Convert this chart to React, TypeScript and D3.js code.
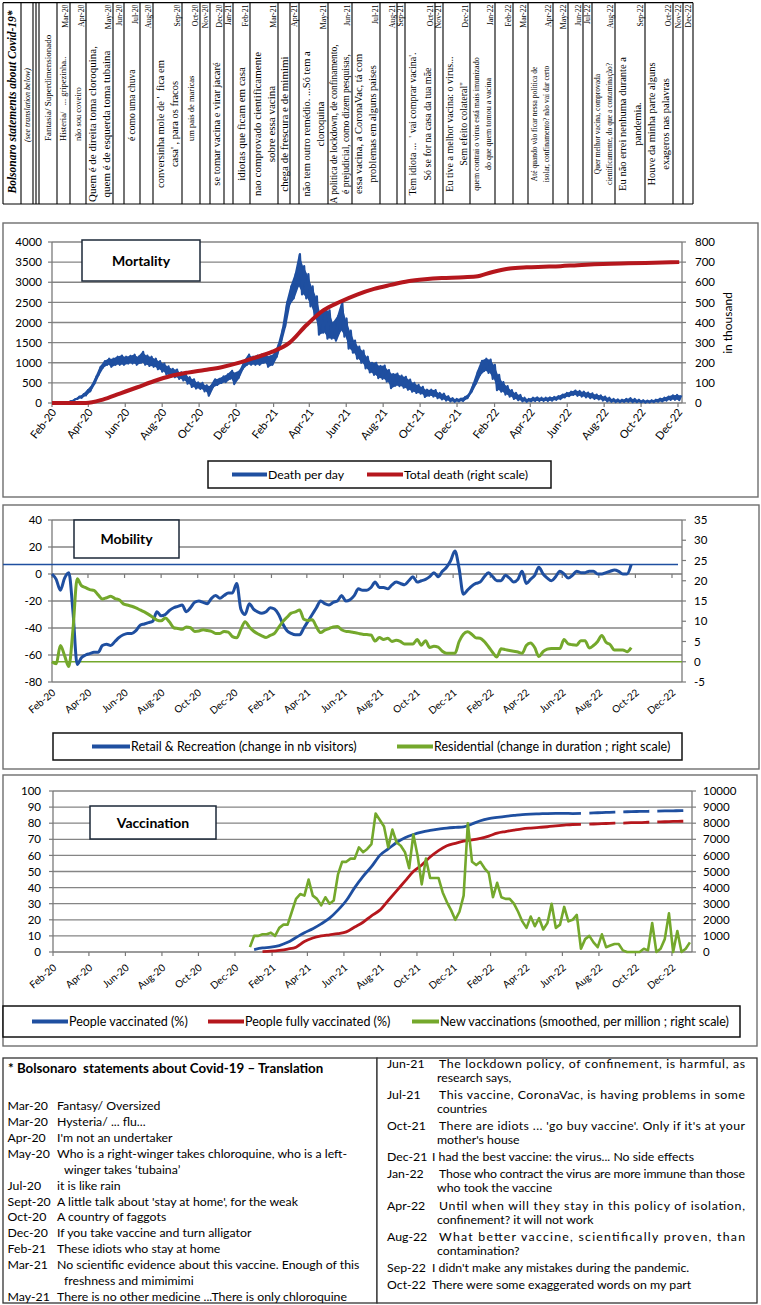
import React from "react";
import * as d3 from "d3";

// ======================= DATA =======================
const headerTitle = "Bolsonaro statements about Covid-19*";
const headerSubtitle = "(see translation below)";

const statementMonths = [
  "", "Mar-20", "Apr-20", "May-20", "Jun-20", "Jul-20", "Aug-20", "Sep-20", "Oct-20", "Nov-20",
  "Dec-20", "Jan-21", "Feb-21", "Mar-21", "", "Apr-21", "May-21", "Jun-21", "Jul-21", "Aug-21",
  "Sep-21", "Oct-21", "Nov-21", "Dec-21", "Jan-22", "Feb-22", "Mar-22", "Apr-22", "May-22", "Jun-22",
  "Jul-22", "Aug-22", "Sep-22", "Oct-22", "Nov-22", "Dec-22",
];

const statementTexts: string[][] = [
  ["Fantasia/ Superdimensionado"],
  ["Histeria/   ... gripezinha.."],
  ["não sou coveiro"],
  ["Quem é de direita toma cloroquina,", "quem é de esquerda toma tubaina"],
  [],
  ["é como uma chuva"],
  [],
  ["conversinha mole de '  fica em", "casa' , para os fracos"],
  ["um pais de maricas"],
  [],
  ["se tomar vacina e virar jacaré"],
  [],
  ["idiotas que ficam em casa"],
  ["nao comprovado cientificamente", "sobre essa vacina"],
  ["chega de frescura e de mimimi"],
  [],
  ["não tem outro remédio. ...Só tem a", "cloroquina"],
  ["A politica de lockdown, de confinamento,", "é prejudicial, como dizem pesquisas,"],
  ["essa vacina, a CoronaVac, tá com", "problemas em alguns paises"],
  [],
  [],
  ["Tem idiota ...  ' vai comprar vacina'.", "Só se for na casa da tua mãe"],
  [],
  ["Eu tive a melhor vacina: o virus...", "Sem efeito colateral''"],
  ["quem contrai o virus está mais imunizado", "do que quem tomou a vacina"],
  [],
  [],
  ["Até quando vão ficar nessa politica de", "isolar, confinamento? não vai dar certo"],
  [],
  [],
  [],
  ["Quer melhor vacina, comprovada", "cientificamente, do que a contaminação?"],
  ["Eu não errei nenhuma durante a", "pandemia."],
  ["Houve da minha parte alguns", "exageros nas palavras"],
  [],
  [],
];

// Mortality: deaths per day, weekly band (low / high) from 1 Feb 2020
const deathLow = [
  0, 0, 0, 0, 20, 50, 100, 130, 190, 290,
  480, 700, 880, 950, 900, 950, 950, 950, 980, 980,
  950, 1000, 950, 920, 900, 840, 780, 710, 650, 640,
  600, 560, 480, 400, 360, 350, 290, 180, 400, 450,
  500, 520, 600, 470, 620, 850, 950, 950, 950, 950,
  1000, 900, 950, 1150, 1500, 1900, 2450, 2600, 2900, 2700,
  2600, 2400, 2100, 1700, 1750, 1600, 1600, 1550, 1800, 1650,
  1350, 1250, 1100, 1000, 860, 760, 700, 620, 600, 530,
  370, 430, 420, 380, 330, 280, 250, 230, 150, 180,
  160, 120, 90, 60, 40, 30, 40, 50, 120, 280,
  480, 700, 800, 750, 600, 320, 280, 210, 160, 100,
  70, 40, 30, 40, 50, 50, 50, 50, 60, 80,
  100, 140, 170, 200, 180, 160, 140, 120, 100, 90,
  60, 40, 30, 20, 20, 25, 30, 20, 20, 15,
  10, 15, 20, 30, 40, 60, 80, 80, 70,
];
const deathHigh = [
  0, 0, 0, 10, 50, 100, 160, 220, 320, 440,
  660, 900, 1040, 1100, 1100, 1150, 1180, 1150, 1170, 1200,
  1150, 1270, 1180, 1150, 1100, 1040, 980, 910, 850, 830,
  760, 750, 640, 590, 510, 500, 440, 420, 590, 600,
  660, 710, 800, 750, 820, 1050, 1200, 1150, 1180, 1200,
  1200, 1160, 1220, 1450, 1850, 2500, 2900, 3200, 3700, 3400,
  3200, 2900, 2650, 2250, 2300, 2300, 2000, 2150, 2500, 2100,
  1800, 1550, 1400, 1300, 1150, 1000, 1000, 920, 930, 820,
  720, 730, 680, 650, 580, 500, 450, 400, 330, 330,
  320, 250, 230, 170, 120, 100, 110, 150, 230, 480,
  780, 1050, 1100, 1080, 950, 700, 520, 420, 320, 250,
  200, 130, 100, 130, 140, 130, 130, 140, 150, 170,
  210, 250, 280, 310, 300, 280, 260, 240, 210, 190,
  160, 130, 100, 90, 80, 100, 120, 100, 80, 70,
  60, 70, 80, 110, 130, 160, 190, 200, 190,
];
// Total deaths (thousand), every 4 weeks from 1 Feb 2020
const totalDeaths = [
  0, 0, 0, 17, 47, 77, 108, 134, 151, 164,
  178, 199, 226, 255, 299, 386, 460, 503, 539, 567,
  587, 605, 615, 621, 624, 628, 651, 668, 674, 677,
  680, 685, 689, 692, 694, 696, 698, 700,
];
const mortalityLeftTicks = [0, 500, 1000, 1500, 2000, 2500, 3000, 3500, 4000];
const mortalityRightTicks = [0, 100, 200, 300, 400, 500, 600, 700, 800];

// Mobility, weekly from 1 Feb 2020
const retail = [
  0, -4, -12, -3, 1, -28, -67, -62, -60, -59,
  -58, -58, -53, -52, -53, -50, -47, -45, -44, -44,
  -42, -38, -37, -36, -35, -28, -31, -30, -27, -25,
  -24, -23, -28, -25, -21, -20, -21, -22, -18, -16,
  -18, -16, -14, -14, -7, -26, -30, -22, -26, -28,
  -29, -28, -25, -26, -30, -37, -42, -44, -45, -45,
  -40, -35, -30, -25, -20, -22, -23, -21, -20, -16,
  -20, -19, -16, -11, -12, -12, -10, -6, -10, -10,
  -11, -8, -6, -7, -8, -5, -2, -6, -5, -4,
  -2, 1, -2, 2, 5, 10, 17, 4, -15, -12,
  -9, -7, -6, -2, 1, -2, -5, -5, -1, -3,
  -6, -4, 2, -7, -4, -1, 5, 0, -3, -5,
  -2, 2, 0, -3, -1, 2, 1, 1, 2, 2,
  0, 0, 1, 2, 3, 2, 0, 0, 7,
];
const residential = [
  0, -0.5, 4, 1.5, -1.2, 8, 20.5, 18.8, 18.3, 17.8,
  17.6, 16.5, 15.5, 15.8, 16.2, 15.6, 15.3, 14.3, 14, 13.7,
  13.3, 12.8, 12.3, 11.7, 11, 10.3, 10.1, 10.8, 9.8, 8.4,
  8.2, 8, 8.6, 8.4, 7.5, 7.6, 7.9, 7.7, 7.5, 7,
  7, 7.5, 7.3, 6.2, 5.9, 8, 9.9, 8.6, 7.6, 6.9,
  6.4, 6, 6.5, 7, 8.5, 9.9, 11, 12, 12.3, 12.8,
  10.5, 10.2, 10.4, 8.6, 7.2, 7.8, 8.2, 8.6, 8.7, 7.9,
  7.5, 7.4, 7.2, 7, 6.8, 6.7, 6.6, 5.1, 6, 5.5,
  5.8, 5, 5.3, 5, 4.4, 4.4, 4.4, 5.5, 4.1, 5.2,
  3.5, 3.8, 3.6, 2.6, 2.1, 2.1, 2.1, 5, 6.8, 7.4,
  6.8, 5.9, 5.8, 5, 3.7, 2.3, 1.2, 3.2, 3, 2.8,
  2.6, 2.4, 2.1, 4, 4.6, 3.5, 1.3, 2.5, 3.1, 3.3,
  3.3, 3.3, 5.5, 4.4, 4.2, 4.1, 5.2, 5.2, 3.4, 4,
  5, 6.5, 4.8, 4.2, 2.9, 2.9, 2.9, 2.5, 3.5,
];
const retailReference = 7;
const residentialReference = 0;
const mobilityLeftTicks = [-80, -60, -40, -20, 0, 20, 40];
const mobilityRightTicks = [-5, 0, 5, 10, 15, 20, 25, 30, 35];

// Vaccination (week index counted from 1 Feb 2020)
const newVaccStartWeek = 47;
const newVacc = [
  300, 1000, 1000, 1100, 1100, 1200, 1000, 1500, 1700, 1700,
  2500, 3300, 3600, 3500, 4500, 3500, 3300, 2900, 3400, 3000,
  3200, 4800, 5600, 5600, 5800, 5800, 6500, 6200, 6400, 6700,
  8600, 8200, 7800, 6500, 7600, 6800, 6600, 6200, 5200, 7300,
  6000, 4200, 5800, 4600, 4600, 4600, 3700, 3100, 2600, 2000,
  2500, 3500, 8000, 5600, 5400, 5600, 5200, 4900, 3400, 4300,
  3400, 3300, 3300, 3000, 2500, 1900, 1500, 2200, 1600, 2100,
  1400, 1800, 3000, 1500, 1700, 2800, 1900, 2000, 2300, 200,
  800, 1000, 600, 300, 1100, 300, 400, 500, 500, 100,
  0, 0, 0, 0, 200, 100, 1800, 0, 200, 800,
  2400, 0, 1300, 0, 200, 600,
];
const peopleVaccStartWeek = 48;
const peopleVacc = [
  1.5, 2.5, 3, 4, 6, 9, 12, 14.5, 17.5, 21,
  26, 32, 40, 47, 53, 60, 64, 68, 71, 73,
  74.5, 75.5, 76.3, 77, 77.4, 77.7, 79.5, 81.5, 82.8, 83.6,
  84.3, 84.8, 85.3, 85.6, 85.8, 86, 86.1, 86.1, 86, 86.1,
];
const peopleVaccLaterStartWeek = 128;
const peopleVaccLater = [86.3, 86.5, 86.7, 86.9, 87, 87.2, 87.3, 87.4, 87.5, 87.6, 87.7, 87.8, 88];
const fullyVaccStartWeek = 50;
const fullyVacc = [
  0.2, 0.5, 1, 1.8, 3, 6.5, 8.7, 10, 10.7, 11.4,
  12.5, 15.5, 18.5, 22.5, 26, 32, 38, 44, 50, 54,
  59, 63, 66, 67.5, 68.8, 69.6, 70.6, 72, 73.8, 74.8,
  75.7, 76.5, 77, 77.4, 77.8, 78.3, 78.8, 79.2, 79.3,
];
const fullyVaccLaterStartWeek = 128;
const fullyVaccLater = [79.4, 79.6, 79.8, 80, 80.1, 80.3, 80.4, 80.6, 80.8, 80.9, 81.1, 81.2, 81.3];
const vaccLeftTicks = [0, 10, 20, 30, 40, 50, 60, 70, 80, 90, 100];
const vaccRightTicks = [0, 1000, 2000, 3000, 4000, 5000, 6000, 7000, 8000, 9000, 10000];

// Translation box
const translationTitle = "* Bolsonaro  statements about Covid-19 \u2013 Translation";
const leftDates = ["Mar-20", "Mar-20", "Apr-20", "May-20", "Jul-20", "Sept-20", "Oct-20", "Dec-20", "Feb-21", "Mar-21", "May-21"];
const leftTexts: string[][] = [
  ["Fantasy/ Oversized"],
  ["Hysteria/ ... flu..."],
  ["I'm not an undertaker"],
  ["Who is a right-winger takes chloroquine, who is a left-", "winger takes \u2018tubaina\u2019"],
  ["it is like rain"],
  ["A little talk about 'stay at home', for the weak"],
  ["A country of faggots"],
  ["If you take vaccine and turn alligator"],
  ["These idiots who stay at home"],
  ["No scientific evidence about this vaccine. Enough of this", "freshness and mimimimi"],
  ["There is no other medicine ...There is only chloroquine"],
];
const rightDates = ["Jun-21", "Jul-21", "Oct-21", "Dec-21", "Jan-22", "Apr-22", "Aug-22", "Sep-22", "Oct-22"];
const rightTexts: string[][] = [
  ["The lockdown policy, of confinement, is harmful, as", "research says,"],
  ["This vaccine, CoronaVac, is having problems in some", "countries"],
  ["There are idiots ... 'go buy vaccine'. Only if it's at your", "mother's house"],
  ["I had the best vaccine: the virus... No side effects"],
  ["Those who contract the virus are more immune than those", "who took the vaccine"],
  ["Until when will they stay in this policy of isolation,", "confinement? it will not work"],
  ["What better vaccine, scientifically proven, than", "contamination?"],
  ["I didn't make any mistakes during the pandemic."],
  ["There were some exaggerated words on my part"],
];

// ======================= LAYOUT / STYLE =======================
const FONT = "Lato, 'Open Sans', 'DejaVu Sans', sans-serif";
const SERIF = "'Liberation Serif', 'DejaVu Serif', serif";
const GRID = "#858585";
const AXIS = "#7a7a7a";
const PANEL = "#6e6e6e";
const BLUE = "#1f4fa0";
const RED = "#b5171d";
const GREEN = "#74a82c";

const COL_EDGES = [3, 21, 33, 36, 39, 57, 70, 86, 113, 124, 140, 153, 182, 200, 210, 224, 233, 250, 278, 290, 299, 328, 352, 380, 397, 405, 435, 443, 470, 495, 513, 528, 553, 568, 583, 592, 615, 645, 673, 683, 693];
const STMT_FONT = [9, 8.5, 8.5, 11, 0, 9.5, 0, 10.5, 8.5, 0, 10.5, 0, 11, 11, 11, 0, 10.5, 9.5, 10.5, 0, 0, 10, 0, 10, 8, 0, 0, 7.5, 0, 0, 0, 7.5, 10.5, 10.5, 0, 0];
const LOW_ALIGNED = new Set([0, 1, 2, 5, 8]);

const START = new Date(2020, 1, 1);
const DAY = 86400000;
const dayDate = (d: number) => new Date(START.getTime() + d * DAY);
const weekly = (startWeek: number, stepWeeks: number, vals: number[]) =>
  vals.map((v, i) => ({ date: dayDate(7 * (startWeek + i * stepWeeks)), v }));
const axisMonths = d3.timeMonths(new Date(2020, 1, 1), new Date(2022, 11, 2), 2);
const fmtMonth = d3.timeFormat("%b-%y");

function Frame(p: any) {
  const [x0, x1] = p.x.range();
  const [yb, yt] = p.yl.range();
  const ya = p.yl(p.axisAt);
  return (
    <g>
      {p.grid.map((v: number) => (
        <line key={"g" + v} x1={x0} x2={x1} y1={p.yl(v)} y2={p.yl(v)} stroke={GRID} strokeWidth={1.3} />
      ))}
      <line x1={x0} x2={x0} y1={yt} y2={yb} stroke={AXIS} strokeWidth={1.3} />
      <line x1={x1} x2={x1} y1={yt} y2={yb} stroke={AXIS} strokeWidth={1.3} />
      {p.leftTicks.map((v: number) => (
        <g key={"l" + v}>
          <line x1={x0 - 4} x2={x0} y1={p.yl(v)} y2={p.yl(v)} stroke={AXIS} strokeWidth={1.2} />
          <text x={p.leftLabelX} y={p.yl(v)} dy="0.36em" textAnchor="end" fontSize={p.tickFont}>{v}</text>
        </g>
      ))}
      {p.rightTicks.map((v: number) => (
        <g key={"r" + v}>
          <line x1={x1} x2={x1 + 4} y1={p.yr(v)} y2={p.yr(v)} stroke={AXIS} strokeWidth={1.2} />
          <text x={p.rightLabelX} y={p.yr(v)} dy="0.36em" textAnchor="start" fontSize={p.tickFont}>{v}</text>
        </g>
      ))}
      <line x1={x0} x2={x1} y1={ya} y2={ya} stroke={AXIS} strokeWidth={1.5} />
      {axisMonths.map((d, i) => (
        <line key={"t" + i} x1={p.x(d)} x2={p.x(d)} y1={ya} y2={ya + 4} stroke={AXIS} strokeWidth={1.2} />
      ))}
      {axisMonths.map((d, i) => (
        <text key={"xl" + i} transform={`translate(${p.x(d) + 2},${p.labelY}) rotate(${p.angle})`} textAnchor="end" dy="0.35em" fontSize={p.labelFont}>
          {fmtMonth(d)}
        </text>
      ))}
    </g>
  );
}

function TitleBox({ x, y, w, h, label }: any) {
  return (
    <g>
      <rect x={x} y={y} width={w} height={h} fill="#fff" stroke="#1c2838" strokeWidth={1.5} />
      <text x={x + w / 2} y={y + h / 2} dy="0.36em" textAnchor="middle" fontWeight="bold" fontSize={14}>{label}</text>
    </g>
  );
}

function Legend({ x, y, w, h, items, fontSize }: any) {
  return (
    <g>
      <rect x={x} y={y} width={w} height={h} fill="#fff" stroke="#111" strokeWidth={1.5} />
      {items.map((it: any, i: number) => (
        <g key={i}>
          <line x1={it.x} x2={it.tx - 1} y1={y + h / 2} y2={y + h / 2} stroke={it.color} strokeWidth={4} />
          <text x={it.tx} y={y + h / 2} dy="0.36em" fontSize={fontSize}>{it.label}</text>
        </g>
      ))}
    </g>
  );
}

export default function App() {
  // ---------- Mortality ----------
  const mortX = d3.scaleTime().domain([START, dayDate(1040.6)]).range([52, 682]);
  const mortY = d3.scaleLinear().domain([0, 4000]).range([403, 242]);
  const mortYR = d3.scaleLinear().domain([0, 800]).range([403, 242]);
  const deathPts = deathLow.flatMap((lo, k) => [
    { date: dayDate(7 * k), v: lo },
    { date: dayDate(7 * k + 3.5), v: deathHigh[k] },
  ]);
  const deathBand = deathLow.map((lo, k) => ({ date: dayDate(7 * k + 1.75), lo, hi: deathHigh[k] }));
  const deathArea =
    d3.area<any>().x((d) => mortX(d.date)).y0((d) => mortY(d.lo)).y1((d) => mortY(d.hi))(deathBand) || "";
  const deathPath = d3.line<any>().x((d) => mortX(d.date)).y((d) => mortY(d.v))(deathPts) || "";
  const totalPath =
    d3.line<any>().curve(d3.curveMonotoneX).x((d) => mortX(d.date)).y((d) => mortYR(d.v))(weekly(0, 4, totalDeaths)) || "";

  // ---------- Mobility ----------
  const mobX = d3.scaleTime().domain([START, dayDate(1050.7)]).range([52, 682]);
  const mobY = d3.scaleLinear().domain([-80, 40]).range([682, 520]);
  const mobYR = d3.scaleLinear().domain([-5, 35]).range([682, 520]);
  const retailPath =
    d3.line<any>().curve(d3.curveMonotoneX).x((d) => mobX(d.date)).y((d) => mobY(d.v))(weekly(0, 1, retail)) || "";
  const residPath =
    d3.line<any>().curve(d3.curveMonotoneX).x((d) => mobX(d.date)).y((d) => mobYR(d.v))(weekly(0, 1, residential)) || "";

  // ---------- Vaccination ----------
  const vaxX = d3.scaleTime().domain([START, dayDate(1067.5)]).range([53, 692]);
  const vaxY = d3.scaleLinear().domain([0, 100]).range([952, 791]);
  const vaxYR = d3.scaleLinear().domain([0, 10000]).range([952, 791]);
  const lineL = d3.line<any>().curve(d3.curveMonotoneX).x((d) => vaxX(d.date)).y((d) => vaxY(d.v));
  const newVaccPath =
    d3.line<any>().x((d) => vaxX(d.date)).y((d) => vaxYR(d.v))(weekly(newVaccStartWeek, 1, newVacc)) || "";
  const peoplePath = lineL(weekly(peopleVaccStartWeek, 2, peopleVacc)) || "";
  const peopleLaterPath = lineL(weekly(peopleVaccLaterStartWeek, 2, peopleVaccLater)) || "";
  const fullyPath = lineL(weekly(fullyVaccStartWeek, 2, fullyVacc)) || "";
  const fullyLaterPath = lineL(weekly(fullyVaccLaterStartWeek, 2, fullyVaccLater)) || "";

  // ---------- Translation rows ----------
  const leftRows: any[] = [];
  leftDates.forEach((d, i) => leftTexts[i].forEach((t, j) => leftRows.push({ date: j === 0 ? d : "", text: t, cont: j > 0 })));
  const rightRows: any[] = [];
  let ry = 1063.3;
  rightDates.forEach((d, i) => {
    if (i > 0) ry += 17.1;
    rightTexts[i].forEach((t, j) => {
      if (j > 0) ry += 14.1;
      rightRows.push({ date: j === 0 ? d : "", text: t, cont: j > 0, multi: rightTexts[i].length > 1, y: ry });
    });
  });

  return (
    <div>
      <style>{"html,body{margin:0;padding:0;background:#fff}"}</style>
      <svg width={761} height={1305} style={{ display: "block" }} fontFamily={FONT}>
        <rect x={0} y={0} width={761} height={1305} fill="#fff" />

        {/* ================= HEADER TABLE ================= */}
        <g fontFamily={SERIF} fill="#000">
          <line x1={COL_EDGES[0]} x2={COL_EDGES[COL_EDGES.length - 1]} y1={2.7} y2={2.7} stroke="#000" strokeWidth={1.2} />
          <line x1={COL_EDGES[0]} x2={COL_EDGES[COL_EDGES.length - 1]} y1={204} y2={204} stroke="#000" strokeWidth={1.2} />
          {COL_EDGES.map((x, i) => (
            <line key={"ce" + i} x1={x} x2={x} y1={2.7} y2={204} stroke="#000" strokeWidth={1.1} />
          ))}
          <text transform={`translate(16,102) rotate(-90)`} textAnchor="middle" fontWeight="bold" fontStyle="italic" fontSize={11.5}>
            {headerTitle}
          </text>
          <text transform={`translate(30,105) rotate(-90)`} textAnchor="middle" fontStyle="italic" fontSize={8}>
            {headerSubtitle}
          </text>
          {statementMonths.map((m, j) => {
            const c = j + 4;
            const left = COL_EDGES[c];
            const right = COL_EDGES[c + 1];
            const w = right - left;
            const lines = statementTexts[j];
            const fs = STMT_FONT[j];
            const low = LOW_ALIGNED.has(j);
            return (
              <g key={"sc" + j}>
                {m && (
                  <text transform={`translate(${right - 2.5},4.5) rotate(-90)`} textAnchor="end" fontSize={7.8}>
                    {m}
                  </text>
                )}
                {lines.map((t, i) => {
                  const cx = left + (w * (i + 0.5)) / lines.length;
                  const bx = cx + 0.33 * fs;
                  return (
                    <text
                      key={i}
                      transform={`translate(${bx},${low ? 141 : 124}) rotate(-90)`}
                      textAnchor={low ? "start" : "middle"}
                      fontSize={fs}
                      style={{ whiteSpace: "pre" }}
                    >
                      {t}
                    </text>
                  );
                })}
              </g>
            );
          })}
        </g>

        {/* ================= MORTALITY ================= */}
        <rect x={3} y={223} width={755} height={274} fill="#fff" stroke={PANEL} strokeWidth={1.4} />
        <Frame
          x={mortX} yl={mortY} yr={mortYR} grid={mortalityLeftTicks.filter((v) => v > 0)} axisAt={0}
          leftTicks={mortalityLeftTicks} rightTicks={mortalityRightTicks} leftLabelX={42} rightLabelX={695}
          tickFont={11.5} labelY={410} angle={-52} labelFont={11}
        />
        <TitleBox x={82} y={240} w={118} h={41} label="Mortality" />
        <path d={deathArea} fill={BLUE} stroke="none" />
        <path d={deathPath} fill="none" stroke={BLUE} strokeWidth={2.2} strokeLinejoin="round" />
        <path d={totalPath} fill="none" stroke={RED} strokeWidth={4} />
        <text transform="translate(732,323) rotate(-90)" textAnchor="middle" fontSize={12}>in thousand</text>
        <Legend
          x={208} y={461} w={343} h={27} fontSize={12.3}
          items={[
            { color: BLUE, x: 232, tx: 268, label: "Death per day" },
            { color: RED, x: 367, tx: 404, label: "Total death (right scale)" },
          ]}
        />

        {/* ================= MOBILITY ================= */}
        <rect x={3} y={505} width={756} height={264} fill="#fff" stroke={PANEL} strokeWidth={1.4} />
        <Frame
          x={mobX} yl={mobY} yr={mobYR} grid={mobilityLeftTicks.filter((v) => v !== 0)} axisAt={0}
          leftTicks={mobilityLeftTicks} rightTicks={mobilityRightTicks} leftLabelX={42} rightLabelX={694}
          tickFont={11.5} labelY={691} angle={-40} labelFont={10}
        />
        <line x1={3} x2={678} y1={mobY(retailReference)} y2={mobY(retailReference)} stroke={BLUE} strokeWidth={1.6} />
        <line x1={52} x2={682} y1={mobYR(residentialReference)} y2={mobYR(residentialReference)} stroke={GREEN} strokeWidth={1.6} />
        <TitleBox x={74} y={520} w={105} h={38} label="Mobility" />
        <path d={retailPath} fill="none" stroke={BLUE} strokeWidth={3} strokeLinejoin="round" />
        <path d={residPath} fill="none" stroke={GREEN} strokeWidth={3} strokeLinejoin="round" />
        <Legend
          x={53} y={733} w={629} h={27} fontSize={12.5}
          items={[
            { color: BLUE, x: 92, tx: 131, label: "Retail & Recreation (change in nb visitors)" },
            { color: GREEN, x: 397, tx: 434, label: "Residential (change in duration ; right scale)" },
          ]}
        />

        {/* ================= VACCINATION ================= */}
        <rect x={3} y={775} width={754} height={271} fill="#fff" stroke={PANEL} strokeWidth={1.4} />
        <Frame
          x={vaxX} yl={vaxY} yr={vaxYR} grid={vaccLeftTicks.filter((v) => v > 0)} axisAt={0}
          leftTicks={vaccLeftTicks} rightTicks={vaccRightTicks} leftLabelX={41} rightLabelX={703}
          tickFont={11.5} labelY={966} angle={-40} labelFont={10}
        />
        <TitleBox x={90} y={806} w={126} h={33} label="Vaccination" />
        <path d={fullyPath} fill="none" stroke={RED} strokeWidth={2.8} />
        <path d={fullyLaterPath} fill="none" stroke={RED} strokeWidth={2.8} strokeDasharray="26 8" />
        <path d={peoplePath} fill="none" stroke={BLUE} strokeWidth={2.8} />
        <path d={peopleLaterPath} fill="none" stroke={BLUE} strokeWidth={2.8} strokeDasharray="26 8" />
        <path d={newVaccPath} fill="none" stroke={GREEN} strokeWidth={2.6} strokeLinejoin="round" />
        <Legend
          x={3} y={1006} w={737} h={31} fontSize={12.5}
          items={[
            { color: BLUE, x: 32, tx: 69, label: "People vaccinated (%)" },
            { color: RED, x: 208, tx: 245, label: "People fully vaccinated (%)" },
            { color: GREEN, x: 412, tx: 440, label: "New vaccinations (smoothed, per million ; right scale)" },
          ]}
        />

        {/* ================= TRANSLATION ================= */}
        <rect x={3} y={1058} width={374} height={245} fill="#fff" stroke="#333" strokeWidth={1.3} />
        <rect x={377} y={1058} width={380} height={245} fill="#fff" stroke="#333" strokeWidth={1.3} />
        <text x={8} y={1072.5} fontWeight="bold" fontSize={13.3} style={{ whiteSpace: "pre" }}>{translationTitle}</text>
        {leftRows.map((r, i) => {
          const y = 1105.7 + 15.92 * i + 4.3;
          return (
            <g key={"lr" + i} fontSize={12.3}>
              {r.date && <text x={7.5} y={y}>{r.date}</text>}
              <text x={r.cont ? 64 : 57} y={y}>{r.text}</text>
            </g>
          );
        })}
        {rightRows.map((r, i) => {
          const y = r.y + 4.3;
          const justify = r.multi && !r.cont;
          return (
            <g key={"rr" + i} fontSize={12.3}>
              {r.date && <text x={387} y={y}>{r.date}</text>}
              {justify ? (
                <text x={439} y={y} textLength={306} lengthAdjust="spacing">{r.text}</text>
              ) : (
                <text x={r.cont ? 437 : 432} y={y}>{r.text}</text>
              )}
            </g>
          );
        })}
      </svg>
    </div>
  );
}
